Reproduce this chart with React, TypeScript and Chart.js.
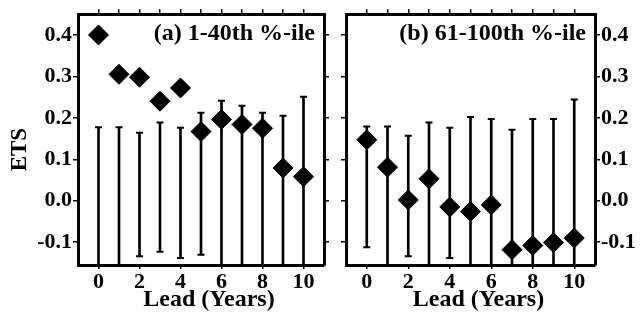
import React, { useEffect, useRef } from "react";
import { Chart, registerables } from "chart.js";

Chart.register(...registerables);

// ---- data ----
const LEADS = [0, 1, 2, 3, 4, 5, 6, 7, 8, 9, 10];
const X_TICKS = [0, 2, 4, 6, 8, 10];
const Y_TICKS = [-0.1, 0.0, 0.1, 0.2, 0.3, 0.4];

const ETS_A = [0.4, 0.305, 0.298, 0.24, 0.272, 0.167, 0.196, 0.184, 0.175, 0.079, 0.058];
const HI_A = [0.177, 0.177, 0.164, 0.189, 0.176, 0.212, 0.241, 0.229, 0.212, 0.205, 0.251];
const LO_A = [-0.2, -0.2, -0.134, -0.123, -0.138, -0.13, -0.2, -0.2, -0.2, -0.2, -0.2];

const ETS_B = [0.147, 0.081, 0.002, 0.053, -0.015, -0.026, -0.01, -0.118, -0.108, -0.101, -0.09];
const HI_B = [0.179, 0.179, 0.157, 0.189, 0.176, 0.202, 0.197, 0.171, 0.197, 0.197, 0.244];
const LO_B = [-0.112, -0.2, -0.134, -0.2, -0.138, -0.2, -0.2, -0.2, -0.2, -0.2, -0.2];

const LABEL_A = "(a) 1-40th %-ile";
const LABEL_B = "(b) 61-100th %-ile";
const Y_TITLE = "ETS";
const X_TITLE = "Lead (Years)";

const Y_MIN = -0.155;
const Y_MAX = 0.45;
const X_MIN = -1;
const X_MAX = 11;

const FONT = "'Liberation Serif', 'Times New Roman', serif";

function textPlugin(label: string, showYTitle: boolean) {
  return {
    id: "panelText",
    afterDraw(chart: any) {
      const { ctx, chartArea } = chart;
      ctx.save();
      ctx.fillStyle = "#000";
      ctx.textBaseline = "middle";
      // panel label
      ctx.font = `bold 24px ${FONT}`;
      ctx.textAlign = "right";
      ctx.fillText(label, chartArea.right - 9, chartArea.top + 20);
      // x axis title
      ctx.font = `bold 24px ${FONT}`;
      ctx.textAlign = "center";
      ctx.fillText(X_TITLE, (chartArea.left + chartArea.right) / 2 + 8, chartArea.bottom + 35);
      // y axis title
      if (showYTitle) {
        ctx.translate(20, (chartArea.top + chartArea.bottom) / 2 + 10);
        ctx.rotate(-Math.PI / 2);
        ctx.font = `bold 23px ${FONT}`;
        ctx.textAlign = "center";
        ctx.fillText(Y_TITLE, 0, 0);
      }
      ctx.restore();
    },
  };
}

function makeConfig(
  ets: number[],
  hi: number[],
  lo: number[],
  label: string,
  side: "left" | "right"
) {
  const tickGrid = (len: number) => ({
    display: true,
    drawOnChartArea: false,
    drawTicks: true,
    tickLength: len,
    offset: false,
    color: "#000",
    lineWidth: 1.5,
  });
  const border = { display: true, width: 3, color: "#000" };
  const yTicksSet = (s: any) => {
    s.ticks = Y_TICKS.map((v) => ({ value: v }));
  };
  const yLabelTicks = {
    display: true,
    color: "#000",
    padding: 1,
    font: { family: FONT, size: 22, weight: "bold" },
    callback: (v: any) => Number(v).toFixed(1),
  };
  const yHiddenTicks = { display: false };

  const leftW = side === "left" ? 78 : 10;
  const rightW = side === "left" ? 9 : 45;

  const capsHi = LEADS.map((x, i) => ({ x, y: hi[i] }));
  const capsLo = LEADS.map((x, i) => ({ x, y: lo[i] })).filter((p) => p.y > Y_MIN);

  return {
    type: "bar" as const,
    data: {
      datasets: [
        {
          type: "bar",
          data: LEADS.map((x, i) => ({ x, y: [lo[i], hi[i]] })),
          backgroundColor: "#000",
          borderWidth: 0,
          barThickness: 2,
          grouped: false,
          clip: 0,
          xAxisID: "x",
          yAxisID: "y",
        },
        {
          type: "scatter",
          data: capsHi,
          pointStyle: "line",
          radius: 3.5,
          borderWidth: 2,
          borderColor: "#000",
          xAxisID: "x",
          yAxisID: "y",
        },
        {
          type: "scatter",
          data: capsLo,
          pointStyle: "line",
          radius: 3.5,
          borderWidth: 2,
          borderColor: "#000",
          xAxisID: "x",
          yAxisID: "y",
        },
        {
          type: "scatter",
          data: LEADS.map((x, i) => ({ x, y: ets[i] })),
          pointStyle: "rectRot",
          radius: 10,
          borderWidth: 1,
          backgroundColor: "#000",
          borderColor: "#000",
          xAxisID: "x",
          yAxisID: "y",
        },
      ],
    },
    options: {
      animation: false,
      responsive: false,
      maintainAspectRatio: false,
      events: [],
      layout: { padding: 0 },
      plugins: { legend: { display: false }, tooltip: { enabled: false } },
      scales: {
        x: {
          type: "linear",
          position: "bottom",
          min: X_MIN,
          max: X_MAX,
          offset: false,
          afterBuildTicks: (s: any) => {
            s.ticks = X_TICKS.map((v) => ({ value: v }));
          },
          afterFit: (s: any) => {
            s.height = 51;
          },
          grid: tickGrid(4),
          border,
          ticks: {
            color: "#000",
            padding: 0,
            maxRotation: 0,
            font: { family: FONT, size: 22, weight: "bold" },
          },
        },
        xt: {
          type: "linear",
          position: "top",
          min: X_MIN,
          max: X_MAX,
          offset: false,
          afterBuildTicks: (s: any) => {
            s.ticks = LEADS.map((v) => ({ value: v }));
          },
          afterFit: (s: any) => {
            s.height = 14;
          },
          grid: tickGrid(5),
          border,
          ticks: { display: false },
        },
        y: {
          type: "linear",
          position: "left",
          min: Y_MIN,
          max: Y_MAX,
          afterBuildTicks: yTicksSet,
          afterFit: (s: any) => {
            s.width = leftW;
          },
          grid: tickGrid(5),
          border,
          ticks: side === "left" ? yLabelTicks : yHiddenTicks,
        },
        yr: {
          type: "linear",
          position: "right",
          min: Y_MIN,
          max: Y_MAX,
          afterBuildTicks: yTicksSet,
          afterFit: (s: any) => {
            s.width = rightW;
          },
          grid: tickGrid(5),
          border,
          ticks: side === "right" ? yLabelTicks : yHiddenTicks,
        },
      },
    },
    plugins: [textPlugin(label, side === "left")],
  };
}

function Panel(props: {
  left: number;
  width: number;
  ets: number[];
  hi: number[];
  lo: number[];
  label: string;
  side: "left" | "right";
}) {
  const ref = useRef<HTMLCanvasElement | null>(null);
  useEffect(() => {
    if (!ref.current) return;
    const chart = new Chart(
      ref.current,
      makeConfig(props.ets, props.hi, props.lo, props.label, props.side) as any
    );
    return () => chart.destroy();
  }, []);
  return (
    <div style={{ position: "absolute", left: props.left, top: 0, width: props.width, height: 316 }}>
      <canvas ref={ref} width={props.width} height={316} style={{ display: "block" }} />
    </div>
  );
}

export default function App() {
  return (
    <div style={{ position: "absolute", left: 0, top: 0, width: 640, height: 316, background: "#fff" }}>
      <Panel left={0} width={335} ets={ETS_A} hi={HI_A} lo={LO_A} label={LABEL_A} side="left" />
      <Panel left={335} width={305} ets={ETS_B} hi={HI_B} lo={LO_B} label={LABEL_B} side="right" />
    </div>
  );
}
